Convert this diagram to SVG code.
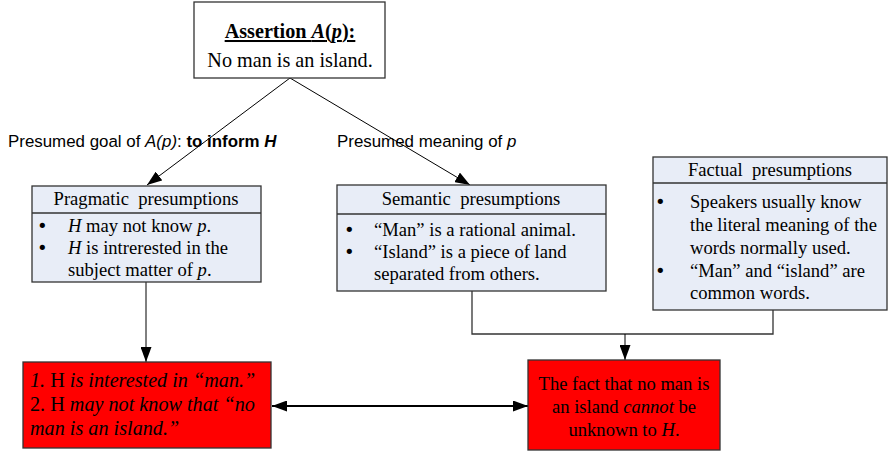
<svg xmlns="http://www.w3.org/2000/svg" width="890" height="451" viewBox="0 0 890 451">
  <style>
    .box { stroke: #333; stroke-width: 1.3; }
    .plain { fill: #fff; }
    .panel { fill: #e8edf7; }
    .alert { fill: #ff0000; }
    .t { font-family: "Liberation Serif", "Times New Roman", serif; font-size: 18.6px; fill: #000; }
    .big { font-size: 20.2px; }
    .dot { font-family: "DejaVu Sans", sans-serif; font-size: 18px; fill: #000; }
    .lbl { font-family: "Liberation Sans", Arial, sans-serif; font-size: 16.9px; fill: #000; }
    .c { text-anchor: middle; }
    .i { font-style: italic; }
    .b { font-weight: bold; }
    .wire { fill: none; stroke: #000; stroke-width: 1; }
    .wire2 { fill: none; stroke: #333; stroke-width: 1.3; }
  </style>
  <defs>
    <marker id="head" viewBox="0 0 15 11" refX="15" refY="5.5" markerWidth="15" markerHeight="11" markerUnits="userSpaceOnUse" orient="auto-start-reverse">
      <path d="M0,0 L15,5.5 L0,11 Z" fill="#000"/>
    </marker>
  </defs>

  <!-- connectors -->
  <g id="connectors">
    <path class="wire" d="M290,78 L147,185" marker-end="url(#head)"/>
    <path class="wire" d="M290,78 L470,185" marker-end="url(#head)"/>
    <path class="wire" d="M146,282 L146,362" marker-end="url(#head)"/>
    <path class="wire2" d="M472,291 L472,334 L773,334 L773,310"/>
    <path class="wire" d="M625,334 L625,360" marker-end="url(#head)"/>
    <path class="wire" style="stroke-width:2" d="M272,406 L528,406" marker-start="url(#head)" marker-end="url(#head)"/>
  </g>

  <!-- edge labels -->
  <g id="labels">
    <text class="lbl" x="8" y="147">Presumed goal of <tspan class="i">A(p)</tspan>: <tspan class="b">to inform <tspan class="i">H</tspan></tspan></text>
    <text class="lbl" x="337" y="147">Presumed meaning of <tspan class="i">p</tspan></text>
  </g>

  <!-- assertion -->
  <g id="assertion">
    <rect class="box plain" x="194" y="2" width="191" height="76"/>
    <text class="t big c b" x="290" y="38" text-decoration="underline">Assertion <tspan class="i">A</tspan>(<tspan class="i">p</tspan>):</text>
    <text class="t big c" x="290" y="67">No man is an island.</text>
  </g>

  <!-- pragmatic presumptions -->
  <g id="pragmatic">
    <rect class="box panel" x="32" y="186" width="229" height="96"/>
    <line class="box" x1="32" y1="213" x2="261" y2="213"/>
    <text class="t c" x="146" y="205" xml:space="preserve">Pragmatic  presumptions</text>
    <text class="dot" x="37" y="232">•</text>
    <text class="t" x="68" y="232"><tspan class="i">H</tspan> may not know <tspan class="i">p</tspan>.</text>
    <text class="dot" x="37" y="254">•</text>
    <text class="t" x="68" y="254"><tspan class="i">H</tspan> is intrerested in the</text>
    <text class="t" x="68" y="276">subject matter of <tspan class="i">p</tspan>.</text>
  </g>

  <!-- semantic presumptions -->
  <g id="semantic">
    <rect class="box panel" x="337" y="185" width="269" height="106"/>
    <line class="box" x1="337" y1="214" x2="606" y2="214"/>
    <text class="t c" x="471" y="205" xml:space="preserve">Semantic  presumptions</text>
    <text class="dot" x="344" y="236">•</text>
    <text class="t" x="374" y="236">“Man” is a rational animal.</text>
    <text class="dot" x="344" y="258">•</text>
    <text class="t" x="374" y="258">“Island” is a piece of land</text>
    <text class="t" x="374" y="280">separated from others.</text>
  </g>

  <!-- factual presumptions -->
  <g id="factual">
    <rect class="box panel" x="653" y="157" width="234" height="153"/>
    <line class="box" x1="653" y1="183" x2="887" y2="183"/>
    <text class="t c" x="770" y="176" xml:space="preserve">Factual  presumptions</text>
    <text class="dot" x="655" y="208">•</text>
    <text class="t" x="690" y="208">Speakers usually know</text>
    <text class="t" x="690" y="231">the literal meaning of the</text>
    <text class="t" x="690" y="254">words normally used.</text>
    <text class="dot" x="655" y="277">•</text>
    <text class="t" x="690" y="277">“Man” and “island” are</text>
    <text class="t" x="690" y="299">common words.</text>
  </g>

  <!-- consequence for the hearer -->
  <g id="hearer">
    <rect class="box alert" x="23" y="362" width="248" height="86"/>
    <text class="t big" x="30" y="387"><tspan class="i">1.</tspan> H <tspan class="i">is interested in “man.”</tspan></text>
    <text class="t big" x="30" y="411">2. H <tspan class="i">may not know that “no</tspan></text>
    <text class="t big i" x="30" y="435">man is an island.”</text>
  </g>

  <!-- consequence from the facts -->
  <g id="fact">
    <rect class="box alert" x="528" y="360" width="192" height="90"/>
    <text class="t c" x="624" y="390">The fact that no man is</text>
    <text class="t c" x="624" y="413">an island <tspan class="i">cannot</tspan> be</text>
    <text class="t c" x="624" y="436">unknown to <tspan class="i">H</tspan>.</text>
  </g>
</svg>
